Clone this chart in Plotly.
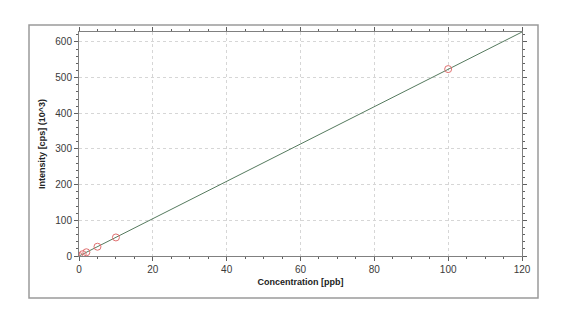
import plotly.graph_objects as go

conc = [0, 1, 2, 5, 10, 100]
intensity = [0.3, 5.2, 10.5, 26, 52, 524]
fit_x = [0, 120]
fit_y = [0, 628]

x_ticks = [0, 20, 40, 60, 80, 100, 120]
y_ticks = [0, 100, 200, 300, 400, 500, 600]

fig = go.Figure()
fig.add_trace(go.Scatter(x=fit_x, y=fit_y, mode="lines",
                         line=dict(color="#557a5e", width=1), hoverinfo="skip"))
fig.add_trace(go.Scatter(x=conc, y=intensity, mode="markers",
                         marker=dict(symbol="circle-open", size=7, color="#e07070",
                                     line=dict(width=1))))

W, H = 572, 327
l, r, t, b = 79, 50, 32, 71
pw, ph = W - l - r, H - t - b

def px(xp):
    return (xp - l) / pw

def py(yp):
    return (H - b - yp) / ph

fig.add_shape(type="rect", xref="paper", yref="paper",
              x0=px(29), x1=px(538), y0=py(298), y1=py(25),
              line=dict(color="#9a9a9a", width=1.5), layer="below")

axis_common = dict(showline=True, linecolor="#808080", linewidth=1,
                   mirror="ticks", ticks="outside", ticklen=4, tickcolor="#606060",
                   showgrid=True, gridcolor="#d6d6d6", griddash="dot", gridwidth=1,
                   zeroline=False,
                   tickfont=dict(family="Liberation Sans, Arial", size=10, color="#3a3a3a"))

fig.update_xaxes(range=[0, 120], tickvals=x_ticks,
                 minor=dict(dtick=5, ticks="outside", ticklen=2, tickcolor="#606060"),
                 title=dict(text="<b>Concentration [ppb]</b>", standoff=4,
                            font=dict(family="Liberation Sans, Arial", size=9, color="#222222")),
                 **axis_common)
fig.update_yaxes(range=[0, 628], tickvals=y_ticks,
                 minor=dict(dtick=20, ticks="outside", ticklen=2, tickcolor="#606060"),
                 title=dict(text="<b>Intensity [cps] (10^3)</b>", standoff=8,
                            font=dict(family="Liberation Sans, Arial", size=9, color="#222222")),
                 **axis_common)

fig.update_layout(width=W, height=H, margin=dict(l=l, r=r, t=t, b=b),
                  paper_bgcolor="white", plot_bgcolor="white", showlegend=False)

fig.write_html("out.html")
